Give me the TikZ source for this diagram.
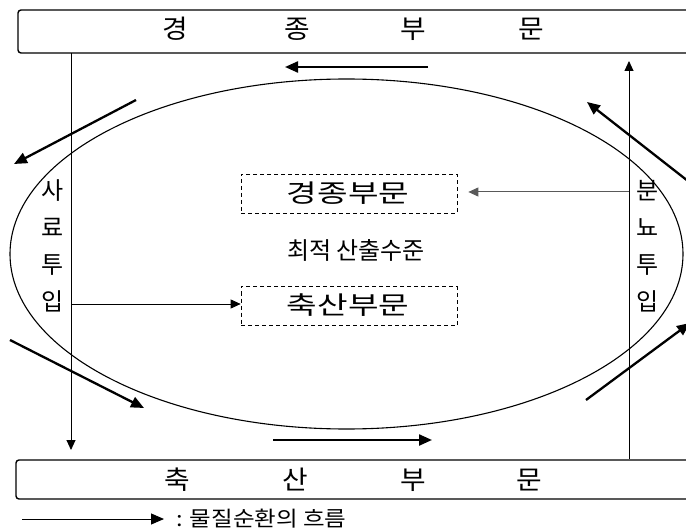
\documentclass[tikz,border=0pt]{standalone}
\usepackage{fontspec}
\setmainfont{Noto Sans CJK KR}
\usetikzlibrary{arrows.meta,shapes.geometric}
\begin{document}
\begin{tikzpicture}[x=1pt,y=-1pt,
  bar/.style={draw, line width=1.4pt, rounded corners=3pt, inner sep=0pt},
  bartext/.style={font=\fontsize{26}{26}\selectfont, inner sep=0pt},
  dbox/.style={draw, dash pattern=on 4pt off 3pt, line width=0.7pt, minimum width=216pt, minimum height=39pt, inner sep=0pt},
  boxtext/.style={font=\fontsize{25}{25}\selectfont, inner sep=0pt},
  sidetext/.style={font=\fontsize{24}{37}\selectfont, align=center, inner sep=0pt},
  flow/.style={line width=2.3pt, -{Triangle[length=13pt,width=11pt]}},
  thinarr/.style={line width=0.9pt, -{Triangle[length=10pt,width=9pt]}},
  ellip/.style={draw, ellipse, line width=1.1pt, inner sep=0pt, minimum width=673pt, minimum height=350pt}
]
\useasboundingbox (0,0) rectangle (686,532);
\clip (0,0) rectangle (686,532);

% bars
\node[bar, minimum width=682pt, minimum height=43pt] (topbar) at (359,31.5) {};
\node[bar, minimum width=684pt, minimum height=39pt] (botbar) at (358,479.5) {};
\node[bartext] (t1) at (175,29) {\scalebox{1.07}[1]{경}};
\node[bartext] (t2) at (297,29) {\scalebox{1.07}[1]{종}};
\node[bartext] (t3) at (413,29) {\scalebox{1.07}[1]{부}};
\node[bartext] (t4) at (531,29) {\scalebox{1.07}[1]{문}};
\node[bartext] (b1) at (177,480) {\scalebox{1.07}[1]{축}};
\node[bartext] (b2) at (295,480) {\scalebox{1.07}[1]{산}};
\node[bartext] (b3) at (413,480) {\scalebox{1.07}[1]{부}};
\node[bartext] (b4) at (529,480) {\scalebox{1.07}[1]{문}};

% ellipse
\node[ellip] (ell) at (346.5,254) {};

% central boxes and text
\node[dbox] (box1) at (349,193.5) {};
\node[boxtext] (box1t) at (348,193) {\scalebox{1.33}[1]{경종부문}};
\node[font=\fontsize{24}{24}\selectfont, inner sep=0pt] (opt) at (356,250) {최적 산출수준};
\node[dbox] (box2) at (349,306) {};
\node[boxtext] (box2t) at (348,305) {\scalebox{1.33}[1]{축산부문}};

% side texts
\node[sidetext] (feed) at (53,246) {사\\료\\투\\입};
\node[sidetext] (manure) at (648,246) {분\\뇨\\투\\입};

% vertical connectors
\coordinate (lt) at (71,53);
\coordinate (lb) at (71,460);
\coordinate (rb) at (629,459);
\coordinate (rt) at (629,53);
\draw[thinarr, shorten >=10pt] (lt) -- (lb);
\draw[thinarr, shorten >=8pt] (rb) -- (rt);

% horizontal inner connectors
\coordinate (lmid) at (71,304);
\coordinate (rmid) at (629,192);
\draw[thinarr, line width=0.8pt] (lmid) -- (box2.west |- lmid);
\draw[thinarr, line width=1pt, draw=black!65, fill=black, shorten >=11pt] (rmid) -- (box1.east |- rmid);

% flow arrows around the ellipse
\coordinate (ta1) at (428,67);
\coordinate (ta2) at (285,67);
\draw[flow] (ta1) -- (ta2);
\coordinate (ba1) at (273,440);
\coordinate (ba2) at (432,440);
\draw[flow] (ba1) -- (ba2);
\coordinate (ul1) at (136,100);
\coordinate (ul2) at (14,164);
\draw[flow] (ul1) -- (ul2);
\coordinate (ll1) at (10,340);
\coordinate (ll2) at (144,408);
\draw[flow] (ll1) -- (ll2);
\coordinate (ur1) at (702,192);
\coordinate (ur2) at (587,102);
\draw[flow] (ur1) -- (ur2);
\coordinate (lr1) at (586,400);
\coordinate (lr2) at (690,323);
\draw[flow] (lr1) -- (lr2);

% legend
\coordinate (lg1) at (22,519);
\coordinate (lg2) at (164,519);
\draw[thinarr, line width=1pt, -{Triangle[length=13pt,width=11pt]}] (lg1) -- (lg2);
\node[anchor=west, font=\fontsize{21}{21}\selectfont, inner sep=0pt] (legend) at (176,519) {\scalebox{1.12}[1]{: 물질순환의 흐름}};
\end{tikzpicture}
\end{document}
